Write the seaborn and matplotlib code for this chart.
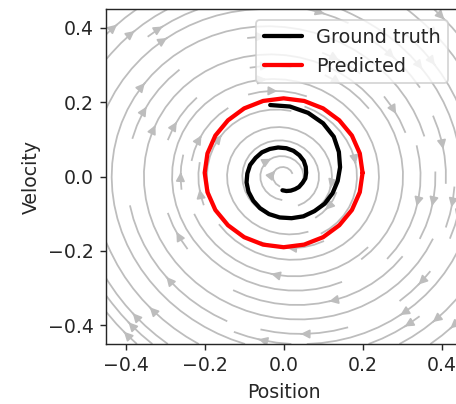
import numpy as np
import matplotlib
matplotlib.use("Agg")
import matplotlib.pyplot as plt
import seaborn as sns

# ground truth trajectory (position, velocity)
truth_pos = [-0.034, 0.016, 0.062, 0.100, 0.127, 0.140, 0.143, 0.137, 0.124, 0.104,
             0.078, 0.050, 0.020, -0.010, -0.037, -0.060, -0.077, -0.089, -0.094, -0.092,
             -0.085, -0.071, -0.055, -0.035, -0.014, 0.007, 0.025, 0.040, 0.051, 0.056,
             0.057, 0.055, 0.048, 0.039, 0.029, 0.018, 0.007, -0.003]
truth_vel = [0.192, 0.188, 0.171, 0.143, 0.107, 0.066, 0.025, -0.012, -0.045, -0.073,
             -0.093, -0.107, -0.112, -0.110, -0.101, -0.085, -0.065, -0.041, -0.016, 0.008,
             0.031, 0.050, 0.065, 0.074, 0.078, 0.076, 0.069, 0.057, 0.042, 0.026,
             0.010, -0.005, -0.017, -0.028, -0.034, -0.038, -0.039, -0.037]

# predicted trajectory (closed orbit)
pred_pos = [0.200, 0.193, 0.173, 0.141, 0.100, 0.052, 0.000, -0.052, -0.100, -0.141,
            -0.173, -0.193, -0.200, -0.193, -0.173, -0.141, -0.100, -0.052, 0.000, 0.052,
            0.100, 0.141, 0.173, 0.193, 0.200]
pred_vel = [0.010, 0.062, 0.110, 0.151, 0.183, 0.203, 0.210, 0.203, 0.183, 0.151,
            0.110, 0.062, 0.010, -0.042, -0.090, -0.131, -0.163, -0.183, -0.190, -0.183,
            -0.163, -0.131, -0.090, -0.042, 0.010]

# vector field of the damped oscillator shown behind the trajectories
damping = 0.1
lim = 0.45

sns.set_style("ticks")
plt.rcParams["font.size"] = 10.6

fig = plt.figure(figsize=(456 / 128, 404 / 128), dpi=128)
ax = fig.add_axes([0.2325, 0.1485, 0.779, 0.8292])

grid = np.linspace(-lim, lim, 40)
X, V = np.meshgrid(grid, grid)
dX = V
dV = -X - damping * V
ax.streamplot(X, V, dX, dV, color="0.74", linewidth=1, density=0.8, arrowsize=1)

sns.lineplot(x=truth_pos, y=truth_vel, sort=False, estimator=None, color="black",
             linewidth=2.4, label="Ground truth", ax=ax)
sns.lineplot(x=pred_pos, y=pred_vel, sort=False, estimator=None, color="red",
             linewidth=2.4, label="Predicted", ax=ax)

ax.set_xlim(-lim, lim)
ax.set_ylim(-lim, lim)
ax.set_xticks([-0.4, -0.2, 0.0, 0.2, 0.4])
ax.set_yticks([-0.4, -0.2, 0.0, 0.2, 0.4])
ax.set_xlabel("Position")
ax.set_ylabel("Velocity")
ax.legend(loc="upper right", bbox_to_anchor=(0.99, 0.995), fontsize=10.8,
          handlelength=2.0, handletextpad=0.7)

fig.savefig("out.png", dpi=128)
